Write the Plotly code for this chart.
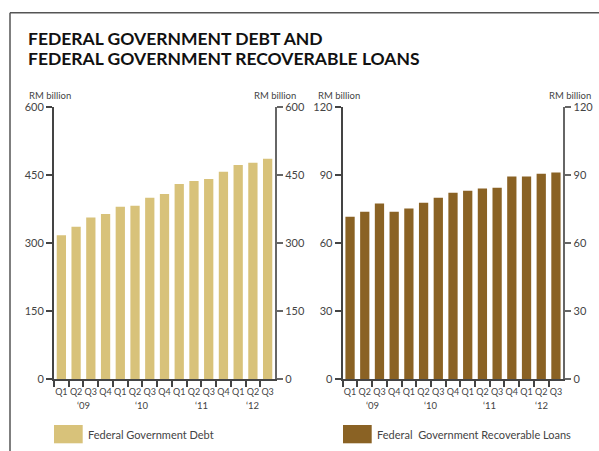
import plotly.graph_objects as go

years = ["‘09"] * 4 + ["‘10"] * 4 + ["‘11"] * 4 + ["‘12"] * 3
quarters = ["Q1", "Q2", "Q3", "Q4"] * 3 + ["Q1", "Q2", "Q3"]
debt = [317, 336, 356, 364, 380, 382, 400, 408, 430, 437, 441, 457, 472, 477, 486]
loans = [71.6, 73.8, 77.4, 73.8, 75.2, 77.8, 80.0, 82.2, 83.1, 84.0, 84.4, 89.3, 89.3, 90.6, 91.1]
debt_ticks = [0, 150, 300, 450, 600]
loan_ticks = [0, 30, 60, 90, 120]

title_lines = ["FEDERAL GOVERNMENT DEBT AND", "FEDERAL GOVERNMENT RECOVERABLE LOANS"]
unit = "RM billion"
legend_names = ["Federal Government Debt", "Federal  Government Recoverable Loans"]

C_DEBT = "#D8C27A"
C_LOAN = "#8A6224"
TXT = "#444444"
FONT = "Lato"

W, H = 599, 451
ydom = [1 - 379 / H, 1 - 107 / H]
xdom1 = [54 / W, 275 / W]
xdom2 = [342.7 / W, 563.3 / W]

cats = [q + " " + y for q, y in zip(quarters, years)]

fig = go.Figure()
fig.add_trace(go.Bar(x=cats, y=debt, marker=dict(color=C_DEBT, line=dict(width=0)),
                     xaxis="x", yaxis="y", showlegend=False))
fig.add_trace(go.Bar(x=cats, y=debt, marker=dict(color=C_DEBT, line=dict(width=0)), opacity=0,
                     hoverinfo="skip", xaxis="x", yaxis="y2", showlegend=False))
fig.add_trace(go.Bar(x=cats, y=loans, marker=dict(color=C_LOAN, line=dict(width=0)),
                     xaxis="x2", yaxis="y3", showlegend=False))
fig.add_trace(go.Bar(x=cats, y=loans, marker=dict(color=C_LOAN, line=dict(width=0)), opacity=0,
                     hoverinfo="skip", xaxis="x2", yaxis="y4", showlegend=False))

tickfont = dict(family=FONT, size=11, color=TXT)
xcommon = dict(type="category", tickmode="array", tickvals=cats, ticktext=quarters, tickson="boundaries",
               showline=True, linecolor="#444", linewidth=2,
               ticks="outside", ticklen=6, tickcolor="#444", tickwidth=1.5, tickangle=0, automargin=False,
               ticklabelstandoff=3, tickfont=dict(family=FONT, size=9, color=TXT),
               showgrid=False, fixedrange=True)
ycommon = dict(showline=True, linewidth=2, ticks="outside", ticklen=6, tickwidth=1.5, automargin=False,
               showgrid=False, zeroline=False, tickfont=tickfont, fixedrange=True, domain=ydom)

fig.update_layout(
    width=W, height=H, margin=dict(l=0, r=0, t=0, b=0),
    paper_bgcolor="white", plot_bgcolor="white", bargap=0.37,
    xaxis=dict(domain=xdom1, anchor="y", **xcommon),
    xaxis2=dict(domain=xdom2, anchor="y3", **xcommon),
    yaxis=dict(anchor="x", range=[0, 600], tickvals=debt_ticks, linecolor="#444", tickcolor="#444", **ycommon),
    yaxis2=dict(anchor="x", overlaying="y", side="right", range=[0, 600], tickvals=debt_ticks,
                linecolor="#666", tickcolor="#666", **ycommon),
    yaxis3=dict(anchor="x2", range=[0, 120], tickvals=loan_ticks, linecolor="#444", tickcolor="#444", **ycommon),
    yaxis4=dict(anchor="x2", overlaying="y3", side="right", range=[0, 120], tickvals=loan_ticks,
                linecolor="#666", tickcolor="#666", **ycommon),
)

# year labels under each group of quarters
for xr in ["x", "x2"]:
    seen = []
    for y in years:
        if y not in seen:
            seen.append(y)
    for y in seen:
        idx = [i for i, v in enumerate(years) if v == y]
        fig.add_annotation(text=y, xref=xr, yref="paper", x=sum(idx) / len(idx), y=1 - 405.5 / H,
                           xanchor="center", yanchor="middle", showarrow=False,
                           font=dict(family=FONT, size=9.5, color=TXT))

# frame
fig.add_shape(type="line", xref="paper", yref="paper", x0=10 / W, x1=1.01, y0=1 - 12.7 / H, y1=1 - 12.7 / H,
              line=dict(color="#555", width=1.5))
fig.add_shape(type="line", xref="paper", yref="paper", x0=10 / W, x1=10 / W, y0=-0.01, y1=1 - 12.7 / H,
              line=dict(color="#555", width=1.5))

# title
for i, t in enumerate(title_lines):
    fig.add_annotation(text="<b>" + t + "</b>", xref="paper", yref="paper", x=26 / W, y=1 - (38.5 + 19.5 * i) / H,
                       xanchor="left", yanchor="middle", showarrow=False,
                       font=dict(family=FONT, size=17.5, color="#111"))

# unit labels
for x, anchor in [(27, "left"), (298, "right"), (316, "left"), (593, "right")]:
    fig.add_annotation(text=unit, xref="paper", yref="paper", x=x / W, y=1 - 95 / H, xanchor=anchor,
                       yanchor="middle", showarrow=False, font=dict(family=FONT, size=9.5, color=TXT))

# legend swatches
for (x0, x1), col, name in [((54, 82.7), C_DEBT, legend_names[0]), ((343, 371.7), C_LOAN, legend_names[1])]:
    fig.add_shape(type="rect", xref="paper", yref="paper", x0=x0 / W, x1=x1 / W, y0=1 - 443.3 / H, y1=1 - 425 / H,
                  fillcolor=col, line=dict(width=0))
    fig.add_annotation(text=name, xref="paper", yref="paper", x=(x1 + 3) / W, y=1 - 434.5 / H, xanchor="left",
                       yanchor="middle", showarrow=False, font=dict(family=FONT, size=11, color=TXT))

fig.write_html("out.html")
